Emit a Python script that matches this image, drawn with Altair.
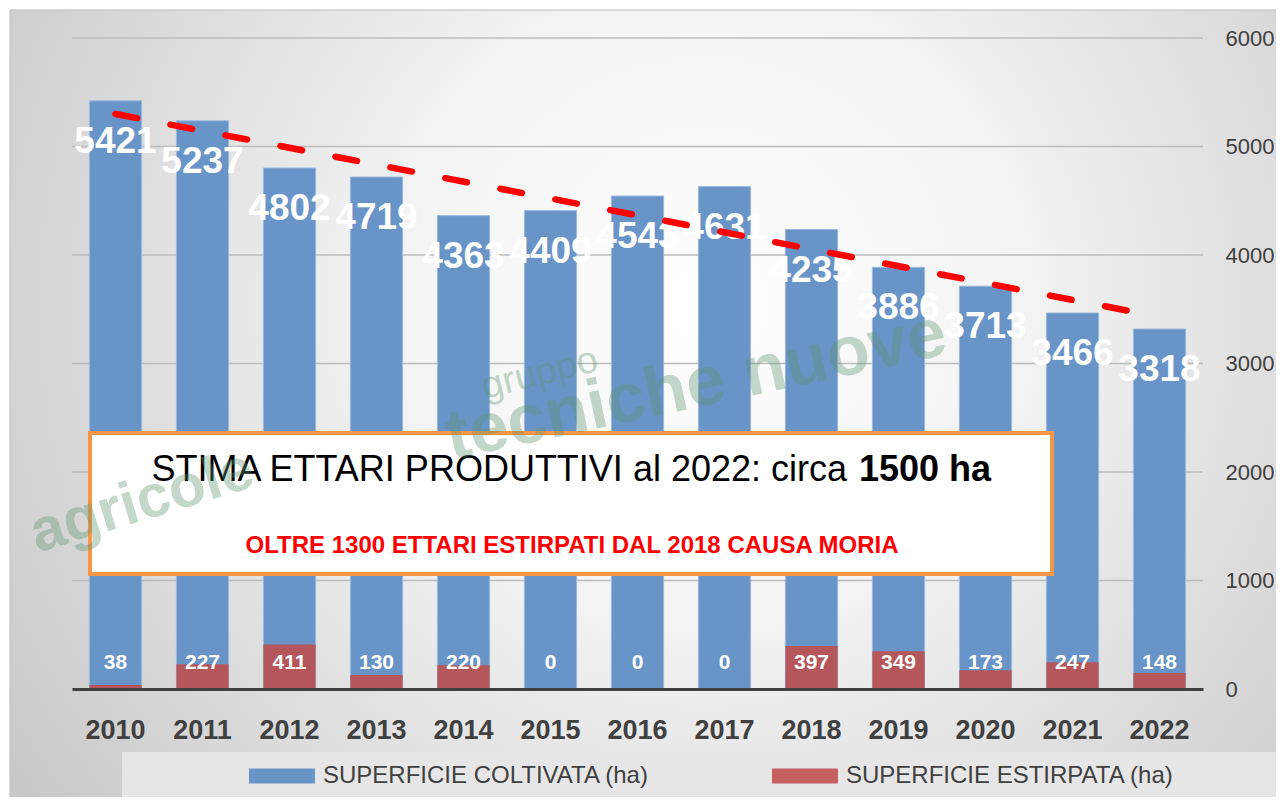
import altair as alt
import pandas as pd

# ---- data ----
years = ["2010", "2011", "2012", "2013", "2014", "2015", "2016",
         "2017", "2018", "2019", "2020", "2021", "2022"]
years_num = [2010, 2011, 2012, 2013, 2014, 2015, 2016,
             2017, 2018, 2019, 2020, 2021, 2022]
coltivata = [5421, 5237, 4802, 4719, 4363, 4409, 4543, 4631, 4235, 3886, 3713, 3466, 3318]
estirpata = [38, 227, 411, 130, 220, 0, 0, 0, 397, 349, 173, 247, 148]
y_ticks = [0, 1000, 2000, 3000, 4000, 5000, 6000]

S1 = "SUPERFICIE COLTIVATA (ha)"
S2 = "SUPERFICIE ESTIRPATA (ha)"
BLUE = "#6894C8"
RED = "#B5565B"
FONT = "Liberation Sans"
GREY = "#404040"

df = pd.DataFrame({
    "anno": years + years,
    "anno_num": years_num + years_num,
    "serie": [S1] * len(years) + [S2] * len(years),
    "valore": coltivata + estirpata,
})

W, H = 1131, 651

x_enc = alt.X(
    "anno:N",
    sort=years,
    scale=alt.Scale(domain=years, paddingInner=0.4, paddingOuter=0.2),
    axis=alt.Axis(title=None, labelAngle=0, labelFont=FONT, labelFontSize=27,
                  labelFontWeight="bold", labelColor=GREY, domainColor=GREY,
                  domainWidth=3, ticks=False, labelPadding=28, grid=False, zindex=1),
)
y_scale = alt.Scale(domain=[0, 6000], nice=False)
y_enc = alt.Y(
    "valore:Q", scale=y_scale,
    axis=alt.Axis(orient="right", title=None, grid=False, domain=False, ticks=False,
                  values=y_ticks, format="d", labelFont=FONT, labelFontSize=22,
                  labelColor=GREY, labelPadding=22, zindex=1),
)
color_enc = alt.Color(
    "serie:N",
    scale=alt.Scale(domain=[S1, S2], range=[BLUE, "#C6605F"]),
    legend=alt.Legend(title=None, orient="none", legendX=177, legendY=705,
                      direction="horizontal", symbolType="M-1,-0.23H1V0.23H-1Z",
                      symbolSize=4356, symbolStrokeWidth=0, symbolOpacity=1,
                      labelFont=FONT, labelFontSize=24, labelColor=GREY,
                      labelLimit=500, labelOffset=8, columnPadding=122, padding=0),
)

gradient = {
    "gradient": "radial",
    "stops": [{"offset": 0, "color": "#ffffff"},
              {"offset": 0.35, "color": "#f3f3f3"},
              {"offset": 1, "color": "#c2c2c2"}],
    "x1": 0.55, "y1": 0.42, "r1": 0,
    "x2": 0.55, "y2": 0.42, "r2": 0.72,
}

one = pd.DataFrame({"k": [0]})

background = alt.Chart(one).mark_rect(fill=gradient, stroke="#bdbdbd", strokeWidth=1).encode(
    x=alt.value(-62), x2=alt.value(1206), y=alt.value(-28), y2=alt.value(765)
)

grid = alt.Chart(pd.DataFrame({"t": y_ticks[1:]})).mark_rule(
    color="#bdbdbd", strokeWidth=1.5
).encode(y=alt.Y("t:Q", scale=y_scale))

base = alt.Chart(df)

bars_blue = base.transform_filter(alt.datum.serie == S1).mark_bar(
    stroke="#9cb9de", strokeWidth=1
).encode(x=x_enc, y=y_enc, color=color_enc)

bars_red = base.transform_filter(alt.datum.serie == S2).mark_bar(
    color=RED, fill=RED
).encode(x=x_enc, y=y_enc, color=color_enc)

labels_blue = base.transform_filter(alt.datum.serie == S1).mark_text(
    font=FONT, fontSize=37, fontWeight="bold", color="white", baseline="middle", dy=41
).encode(x=x_enc, y=y_enc, text="valore:Q")

labels_red = base.transform_filter(alt.datum.serie == S2).mark_text(
    font=FONT, fontSize=21, fontWeight="bold", color="white", baseline="middle"
).encode(x=x_enc, y=alt.datum(238), text="valore:Q")

trend = base.transform_filter(alt.datum.serie == S1).transform_regression(
    "anno_num", "valore", method="linear"
).transform_calculate(
    anno="toString(datum.anno_num)"
).mark_line(color="#FF0000", strokeWidth=6.5, strokeDash=[22, 34], strokeCap="round").encode(
    x=alt.X("anno:N", sort=years, scale=alt.Scale(domain=years)),
    y=alt.Y("valore:Q", scale=y_scale),
)

legend_band = alt.Chart(one).mark_rect(fill="#e6e6e6").encode(
    x=alt.value(50), x2=alt.value(1206), y=alt.value(714), y2=alt.value(762)
)

box = alt.Chart(one).mark_rect(fill="white", stroke="#F79646", strokeWidth=4).encode(
    x=alt.value(18), x2=alt.value(980), y=alt.value(395), y2=alt.value(536)
)


def txt(text, x, y, **kw):
    return alt.Chart(pd.DataFrame({"t": [text]})).mark_text(**kw).encode(
        x=alt.value(x), y=alt.value(y), text="t:N"
    )


box_t1 = txt("STIMA ETTARI PRODUTTIVI al 2022: circa", 775, 432, font=FONT, fontSize=36,
             color="black", align="right", baseline="middle")
box_t2 = txt("1500 ha", 787, 432, font=FONT, fontSize=36, fontWeight="bold",
             color="black", align="left", baseline="middle")
box_t3 = txt("OLTRE 1300 ETTARI ESTIRPATI DAL 2018 CAUSA MORIA", 500, 508, font=FONT,
             fontSize=24, fontWeight="bold", color="#FF0000", align="center", baseline="middle")

wm_color = "#5e9372"
wm1 = txt("tecniche nuove", 624, 348, font=FONT, fontSize=70, fontWeight="bold",
          color=wm_color, opacity=0.36, angle=348, align="center", baseline="middle")
wm2 = txt("gruppo", 468, 336, font=FONT, fontSize=38, color=wm_color, opacity=0.36,
          angle=346, align="center", baseline="middle")
wm3 = txt("agricole", 70, 464, font=FONT, fontSize=60, fontWeight="bold",
          color=wm_color, opacity=0.36, angle=343, align="center", baseline="middle")

chart = alt.layer(
    background, grid, bars_blue, bars_red, labels_blue, labels_red, trend,
    legend_band, box, box_t1, box_t2, box_t3, wm1, wm2, wm3
).properties(
    width=W, height=H,
    autosize=alt.AutoSizeParams(type="none"),
    padding={"left": 64, "top": 30, "right": 73, "bottom": 108},
).configure_view(stroke=None).configure(background="white")

chart.save("out.html", embed_options={"renderer": "svg", "actions": False})
